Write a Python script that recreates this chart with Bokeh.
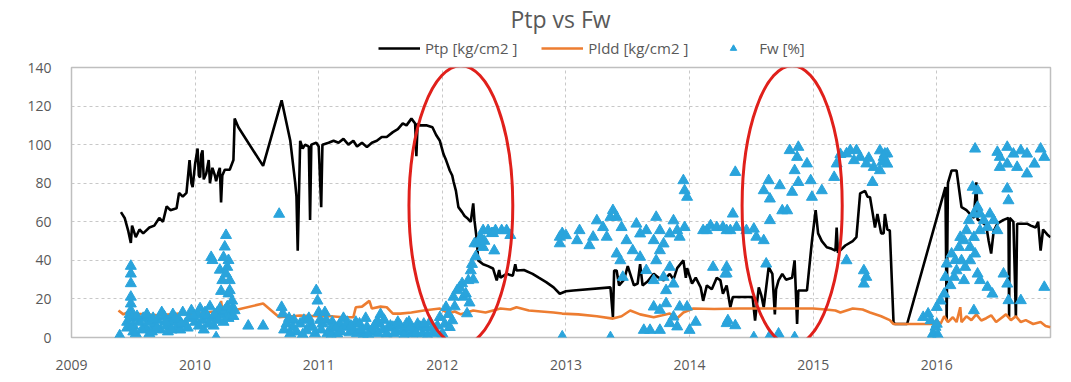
from bokeh.plotting import figure
from bokeh.models import Range1d, FixedTicker, Legend, LegendItem, Label
from bokeh.layouts import column
from bokeh.embed import file_html
from bokeh.resources import INLINE

# ---------------- data (decimal year, value) ----------------
ptp_points = [
    (2009.40, 65), (2009.43, 62), (2009.46, 55), (2009.48, 49), (2009.49, 58), (2009.52, 52),
    (2009.55, 56), (2009.58, 54), (2009.63, 57), (2009.67, 58), (2009.71, 62), (2009.74, 60),
    (2009.77, 68), (2009.80, 66), (2009.85, 67), (2009.87, 75), (2009.90, 73), (2009.93, 75),
    (2009.955, 92), (2009.97, 80), (2009.98, 78), (2010.00, 90), (2010.02, 98), (2010.03, 84),
    (2010.04, 83), (2010.05, 95), (2010.06, 97), (2010.07, 82), (2010.09, 85), (2010.11, 92),
    (2010.12, 80), (2010.14, 88), (2010.16, 84), (2010.17, 81), (2010.19, 86), (2010.20, 88),
    (2010.21, 70), (2010.22, 84), (2010.24, 87), (2010.28, 87), (2010.31, 92), (2010.32, 113.5),
    (2010.35, 109), (2010.55, 89), (2010.70, 123), (2010.77, 102), (2010.81, 80), (2010.82, 73),
    (2010.83, 45), (2010.85, 102), (2010.87, 98), (2010.89, 100), (2010.92, 99), (2010.93, 61),
    (2010.94, 100), (2010.98, 101), (2011.00, 99), (2011.02, 67.6), (2011.03, 100), (2011.08, 101),
    (2011.12, 102), (2011.16, 101), (2011.20, 103), (2011.24, 100), (2011.28, 102), (2011.31, 99),
    (2011.35, 101), (2011.39, 98.7), (2011.43, 101), (2011.47, 102), (2011.51, 104), (2011.55, 104),
    (2011.60, 106.5), (2011.64, 108), (2011.68, 111), (2011.71, 110), (2011.75, 113.5), (2011.78, 111),
    (2011.79, 94), (2011.80, 111), (2011.82, 110), (2011.87, 110), (2011.92, 109), (2011.95, 105),
    (2011.98, 102), (2012.01, 95), (2012.03, 92), (2012.06, 86.6), (2012.08, 84), (2012.09, 81),
    (2012.11, 76), (2012.13, 67.6), (2012.16, 65), (2012.18, 63), (2012.20, 62), (2012.23, 60),
    (2012.25, 69.5), (2012.26, 60.7), (2012.28, 50), (2012.29, 40), (2012.33, 38), (2012.37, 37),
    (2012.41, 35.8), (2012.44, 29.6), (2012.46, 35), (2012.47, 31), (2012.52, 33), (2012.57, 32),
    (2012.59, 38), (2012.60, 34.7), (2012.66, 35), (2012.73, 33), (2012.78, 31), (2012.84, 28.7),
    (2012.90, 26), (2012.95, 22.7), (2013.00, 24), (2013.06, 24.4), (2013.36, 26), (2013.38, 10.5),
    (2013.39, 34.7), (2013.41, 34.7), (2013.43, 27), (2013.47, 30), (2013.50, 37), (2013.52, 33),
    (2013.55, 27), (2013.58, 28), (2013.60, 38), (2013.62, 27), (2013.66, 29), (2013.71, 33),
    (2013.75, 31), (2013.79, 29.6), (2013.84, 33), (2013.87, 30), (2013.90, 36), (2013.95, 40),
    (2013.97, 31), (2013.98, 36), (2014.02, 28), (2014.05, 31), (2014.09, 26), (2014.11, 19),
    (2014.14, 27), (2014.18, 25), (2014.22, 31), (2014.25, 29.6), (2014.27, 22.7), (2014.30, 27),
    (2014.33, 15.7), (2014.35, 21), (2014.38, 21), (2014.51, 21), (2014.53, 8.8), (2014.56, 26),
    (2014.58, 22), (2014.60, 15.7), (2014.62, 26), (2014.64, 36.5), (2014.67, 33), (2014.69, 12),
    (2014.70, 25), (2014.72, 29.6), (2014.75, 33), (2014.78, 30), (2014.83, 31), (2014.85, 40),
    (2014.87, 7), (2014.88, 24.4), (2014.95, 24.4), (2014.99, 50), (2015.02, 66), (2015.04, 54),
    (2015.07, 50), (2015.11, 46.8), (2015.15, 46), (2015.18, 45), (2015.19, 57), (2015.20, 44),
    (2015.26, 47.7), (2015.32, 50), (2015.35, 52), (2015.38, 74.7), (2015.42, 76), (2015.44, 73),
    (2015.46, 72.7), (2015.48, 65), (2015.50, 57), (2015.52, 64), (2015.55, 54), (2015.57, 54),
    (2015.58, 64), (2015.60, 56), (2015.62, 55.5), (2015.65, 8), (2015.66, 7), (2015.76, 7),
    (2016.07, 78), (2016.08, 9), (2016.09, 80), (2016.12, 86.6), (2016.16, 86.6), (2016.20, 67.6),
    (2016.24, 66), (2016.27, 64), (2016.30, 62), (2016.32, 80.5), (2016.33, 61), (2016.35, 60.7),
    (2016.40, 58), (2016.42, 50), (2016.44, 43.5), (2016.46, 55), (2016.49, 59), (2016.54, 61),
    (2016.58, 62), (2016.585, 10.5), (2016.59, 62), (2016.62, 60), (2016.64, 10.5), (2016.65, 59),
    (2016.73, 59), (2016.76, 58), (2016.80, 57), (2016.82, 60), (2016.84, 45), (2016.86, 56),
    (2016.90, 53), (2016.92, 52),
]

pldd_points = [
    (2009.38, 14), (2009.42, 12), (2009.45, 13), (2009.50, 12.4), (2009.60, 12), (2009.70, 11.5),
    (2009.80, 12), (2009.90, 12.5), (2010.00, 12), (2010.10, 13), (2010.20, 14), (2010.21, 19),
    (2010.22, 14), (2010.31, 14), (2010.55, 17.6), (2010.68, 10.5), (2010.85, 11.4), (2011.00, 11),
    (2011.10, 11), (2011.20, 10.5), (2011.28, 10.5), (2011.30, 15.7), (2011.35, 16), (2011.41, 19),
    (2011.43, 15), (2011.50, 16), (2011.55, 15.7), (2011.60, 12.4), (2011.66, 12.4), (2011.75, 13),
    (2011.85, 14), (2011.98, 15), (2012.05, 12.5), (2012.10, 13.5), (2012.15, 12), (2012.25, 14),
    (2012.35, 13), (2012.47, 15), (2012.55, 14.5), (2012.60, 15.7), (2012.70, 14), (2012.80, 13.5),
    (2012.90, 13), (2012.97, 12.4), (2013.10, 12), (2013.25, 11), (2013.38, 9.8), (2013.45, 11),
    (2013.52, 14), (2013.60, 12), (2013.71, 10.5), (2013.78, 11.5), (2013.84, 12.4), (2013.90, 10),
    (2013.95, 13), (2014.03, 15), (2014.20, 14.8), (2014.40, 15), (2014.60, 15), (2014.80, 15),
    (2015.00, 15), (2015.10, 14.5), (2015.18, 14), (2015.22, 13), (2015.32, 15), (2015.40, 14.5),
    (2015.46, 13), (2015.55, 11), (2015.62, 9), (2015.65, 7), (2015.97, 7), (2016.00, 9),
    (2016.03, 7), (2016.06, 11), (2016.09, 8), (2016.13, 10.5), (2016.16, 8), (2016.19, 15.7),
    (2016.20, 8), (2016.24, 11), (2016.28, 9), (2016.32, 12), (2016.36, 8.8), (2016.40, 10),
    (2016.44, 11.5), (2016.48, 8), (2016.52, 10), (2016.56, 12), (2016.60, 9), (2016.64, 11),
    (2016.68, 8), (2016.72, 9), (2016.78, 7), (2016.84, 8), (2016.88, 6), (2016.92, 5.3),
]

fw_points = [
    # 2009.4 - 2010.35
    (2009.39, 1), (2009.48, 37), (2009.48, 33), (2009.48, 28), (2009.48, 21), (2009.48, 17.5),
    (2009.48, 14), (2009.47, 12), (2009.49, 10), (2009.45, 8), (2009.45, 5), (2009.50, 3),
    (2009.50, 6), (2009.52, 2), (2009.55, 8), (2009.58, 10), (2009.60, 5), (2009.62, 8),
    (2009.63, 2), (2009.65, 3), (2009.67, 7), (2009.70, 9), (2009.72, 4), (2009.75, 11),
    (2009.77, 6), (2009.78, 3), (2009.80, 8), (2009.82, 12), (2009.85, 5), (2009.87, 9),
    (2009.88, 4), (2009.90, 13), (2009.92, 7), (2009.95, 10), (2009.97, 14), (2010.00, 8),
    (2010.02, 12), (2010.04, 15), (2010.06, 9), (2010.08, 13), (2010.10, 11), (2010.12, 16),
    (2010.14, 10), (2010.15, 6), (2010.17, 0), (2010.18, 13), (2010.20, 15), (2010.22, 12),
    (2010.24, 14), (2010.26, 16), (2010.28, 13), (2010.30, 15), (2010.32, 14),
    (2009.53, 11), (2009.57, 4), (2009.61, 12), (2009.66, 10), (2009.69, 5), (2009.73, 13),
    (2009.76, 8), (2009.81, 4), (2009.84, 10), (2009.89, 7), (2009.94, 5), (2009.99, 11),
    (2010.03, 6), (2010.07, 4), (2010.11, 7), (2010.16, 12), (2010.19, 9), (2010.23, 8),
    (2010.27, 10), (2010.31, 11),
    (2010.13, 41.6), (2010.14, 40), (2010.25, 53), (2010.24, 47), (2010.23, 41.6), (2010.27, 40),
    (2010.20, 35), (2010.22, 29.6), (2010.26, 36.5), (2010.25, 33), (2010.28, 29.6), (2010.28, 24.4),
    (2010.30, 19), (2010.27, 22.7), (2010.21, 24),
    (2010.43, 6), (2010.55, 6), (2010.68, 64),
    # 2010.7 - 2012.05
    (2010.70, 15.7), (2010.71, 12.3), (2010.74, 7.1), (2010.76, 10), (2010.79, 5.4), (2010.82, 3),
    (2010.85, 7.1), (2010.88, 9), (2010.90, 3.6), (2010.93, 6), (2010.95, 5.4), (2010.98, 24.4),
    (2010.99, 19), (2011.00, 13), (2011.01, 9), (2011.03, 7.1), (2011.05, 13), (2011.07, 2),
    (2011.09, 3.6), (2011.11, 8), (2011.12, 5.4), (2011.15, 1.9), (2011.17, 7.1), (2011.20, 10),
    (2011.22, 5.4), (2011.25, 2.5), (2011.28, 3.6), (2011.30, 8), (2011.33, 7.1), (2011.36, 1),
    (2011.38, 10), (2011.39, 5.4), (2011.42, 3), (2011.44, 3.6), (2011.47, 8), (2011.49, 7.1),
    (2011.50, 12), (2011.52, 4), (2011.55, 1.9), (2011.58, 6), (2011.60, 5.4), (2011.63, 3),
    (2011.66, 6), (2011.68, 3.6), (2011.70, 3), (2011.71, 7.1), (2011.73, 8), (2011.76, 1.9),
    (2011.77, 4), (2011.80, 7), (2011.82, 5.4), (2011.84, 2), (2011.87, 5), (2011.90, 8),
    (2011.93, 3), (2011.96, 6), (2011.98, 10.5), (2012.00, 2), (2012.02, 7), (2012.03, 15.7),
    (2010.72, 4), (2010.77, 2), (2010.80, 9), (2010.87, 1.5), (2010.92, 10), (2010.97, 2),
    (2011.02, 4), (2011.06, 9), (2011.10, 1), (2011.14, 5), (2011.18, 3), (2011.23, 8),
    (2011.26, 6), (2011.31, 2), (2011.34, 4), (2011.40, 1.5), (2011.45, 6), (2011.48, 2),
    (2011.53, 9), (2011.56, 5), (2011.61, 2), (2011.64, 8), (2011.69, 1), (2011.74, 5),
    (2011.79, 2), (2011.85, 7), (2011.88, 1), (2011.92, 5), (2011.95, 2),
    # 2012.05 - 2012.6 rise
    (2012.06, 5.3), (2012.08, 8.8), (2012.05, 12), (2012.09, 21), (2012.10, 16), (2012.12, 24.4),
    (2012.14, 26), (2012.16, 28), (2012.17, 21), (2012.19, 22.7), (2012.20, 12.4), (2012.21, 29.6),
    (2012.22, 18), (2012.23, 34.7), (2012.24, 38), (2012.25, 30), (2012.26, 48.7), (2012.27, 42),
    (2012.29, 48.7), (2012.31, 52), (2012.33, 46.8), (2012.33, 55.5), (2012.34, 50), (2012.37, 55.5),
    (2012.40, 54), (2012.41, 54), (2012.42, 45), (2012.43, 55.5), (2012.48, 55.5), (2012.52, 55.5),
    (2012.55, 53),
    # 2012.9 - 2014.35
    (2012.95, 48.7), (2012.97, 54), (2012.95, 52.1), (2012.97, 0.4), (2013.00, 52.9), (2013.09, 50.3),
    (2013.11, 55.5), (2013.19, 47.7), (2013.22, 52.1), (2013.25, 60.6), (2013.30, 57.1), (2013.33, 52.1),
    (2013.36, 62.4), (2013.38, 65.9), (2013.41, 62.4), (2013.45, 57.1), (2013.49, 50.3), (2013.57, 58.9),
    (2013.60, 53.8), (2013.65, 55.5), (2013.71, 50.3), (2013.73, 62.4), (2013.76, 55.5), (2013.79, 48.6),
    (2013.84, 53.8), (2013.87, 60.6), (2013.90, 55.5), (2013.92, 52.1), (2013.96, 57.1),
    (2013.95, 81.4), (2013.96, 76.2), (2013.98, 72.8),
    (2013.41, 43.4), (2013.44, 39.9), (2013.46, 31.3), (2013.54, 45.1), (2013.60, 41.7), (2013.65, 34.8),
    (2013.71, 29.6), (2013.73, 39.9), (2013.76, 45.1), (2013.79, 31.3), (2013.81, 24.4), (2013.84, 36.5),
    (2013.87, 27.8), (2013.71, 15.9), (2013.76, 14.2), (2013.81, 17.6), (2013.87, 10.7), (2013.92, 15.9),
    (2013.98, 15.9), (2014.00, 3.8), (2013.90, 5.6), (2013.84, 7.3), (2013.76, 3.8), (2013.68, 3.8),
    (2013.63, 3.8), (2013.36, 0), (2014.05, 8),
    (2014.11, 55.5), (2014.14, 55.5), (2014.17, 58), (2014.22, 57.1), (2014.27, 57.2), (2014.30, 55.5),
    (2014.33, 55.5), (2014.19, 36.5), (2014.30, 33.1), (2014.29, 33.0), (2014.30, 36.5), (2014.30, 7.3),
    (2014.31, 8.8), (2014.37, 6.2),
    # 2014.35 - 2015.65
    (2014.37, 85.7), (2014.35, 64.1), (2014.38, 57.2), (2014.46, 55.5), (2014.52, 56.3), (2014.54, 52.1),
    (2014.60, 50.3), (2014.52, 0), (2014.62, 38.2), (2014.64, 81.4), (2014.60, 76.2), (2014.65, 71.9),
    (2014.73, 78.8), (2014.75, 65.8), (2014.65, 60.7), (2014.81, 97.0), (2014.88, 98.7), (2014.87, 93.5),
    (2014.85, 86.6), (2014.95, 90.1), (2014.98, 81.4), (2014.99, 72.8), (2015.07, 76.2), (2014.83, 75.4),
    (2014.88, 80.5), (2014.79, 65.8), (2014.72, 1.9), (2014.85, 0), (2014.65, 0.9),
    (2015.17, 83.1), (2015.19, 90.1), (2015.22, 95), (2015.27, 95.3), (2015.30, 97), (2015.33, 91.8),
    (2015.35, 97), (2015.38, 93.5), (2015.43, 90.1), (2015.45, 93), (2015.49, 88.3), (2015.54, 86.6),
    (2015.56, 91), (2015.60, 95.3), (2015.48, 80.5), (2015.27, 39.9), (2015.41, 34.7), (2015.43, 31.3),
    (2015.41, 27.8),
    # 2015.54 - 2016.92
    (2015.54, 96.9), (2015.58, 95.2), (2015.60, 90.0), (2015.57, 93.5),
    (2016.31, 97.8), (2016.49, 96.1), (2016.51, 93.5), (2016.57, 98.7), (2016.62, 95.2), (2016.68, 96.9),
    (2016.73, 95.2), (2016.79, 90.0), (2016.84, 97.8), (2016.87, 93.5), (2016.65, 88.3), (2016.73, 84.9),
    (2016.51, 88.3), (2016.57, 90.0), (2016.29, 78.0), (2016.33, 76.2), (2016.57, 77.1), (2016.58, 71.0),
    (2015.89, 10.5), (2015.93, 12.3), (2015.95, 8.8), (2015.96, 0.3), (2015.97, 2.0), (2015.99, 5.4),
    (2016.00, 7), (2016.01, 1.2), (2016.00, 15.7), (2016.03, 19), (2016.06, 22.6), (2016.07, 31.3),
    (2016.08, 38.2), (2016.11, 27), (2016.12, 43.4), (2016.14, 31.3), (2016.15, 40), (2016.16, 34.7),
    (2016.18, 46.8), (2016.19, 52), (2016.20, 39.9), (2016.22, 50.3), (2016.22, 29.6), (2016.23, 36.5),
    (2016.24, 55.5), (2016.26, 60.7), (2016.27, 46.8), (2016.27, 39.9), (2016.30, 64.1), (2016.30, 52.0),
    (2016.30, 14.0), (2016.31, 43.4), (2016.33, 67.6), (2016.33, 33.0), (2016.35, 64.1), (2016.35, 55.5),
    (2016.35, 29.6), (2016.38, 60.7), (2016.41, 57.2), (2016.41, 26.1), (2016.43, 64.1), (2016.45, 22.6),
    (2016.46, 60.7), (2016.49, 55.5), (2016.54, 33.0), (2016.57, 27.8), (2016.58, 19.2), (2016.68, 19.2),
    (2016.87, 26.1),
]

# highlight ellipses (annotations drawn on the chart)
hl_x = [2012.15, 2014.83]
hl_y = [68.4, 68.4]
hl_w = [0.84, 0.81]
hl_h = [145, 145]

years = [2009, 2010, 2011, 2012, 2013, 2014, 2015, 2016]
y_ticks = [0, 20, 40, 60, 80, 100, 120, 140]
title_text = "Ptp vs Fw"
series_names = ["Ptp [kg/cm2 ]", "Pldd [kg/cm2 ]", "Fw [%]"]

ptp_x = [a for a, _ in ptp_points]
ptp_y = [b for _, b in ptp_points]
pldd_x = [a for a, _ in pldd_points]
pldd_y = [b for _, b in pldd_points]
fw_x = [a for a, _ in fw_points]
fw_y = [b for _, b in fw_points]

GREY = "#595959"
BLUE = "#2AA4DC"
ORANGE = "#ED7D31"
W = 1055
HEAD_H = 58
LEFT, RIGHT = 71, 5

# ---------- header: title + legend (frame spans page x 71..1050) ----------
head = figure(width=W, height=HEAD_H, output_backend="svg", toolbar_location=None,
              x_range=Range1d(LEFT, W - RIGHT), y_range=Range1d(0, HEAD_H),
              min_border_left=LEFT, min_border_right=RIGHT, min_border_top=0, min_border_bottom=0)
head.axis.visible = False
head.grid.visible = False
head.outline_line_color = None
head.add_layout(Label(x=560, y=HEAD_H - 18, text=title_text, text_align="center",
                      text_baseline="middle", text_font="Open Sans", text_font_size="23px",
                      text_color=GREY))
# proxies for the legend: real series data, which falls outside the header's range
h_ptp = head.line(ptp_x[:2], ptp_y[:2], line_color="black", line_width=2.6)
h_pldd = head.line(pldd_x[:2], pldd_y[:2], line_color=ORANGE, line_width=2.6)
h_fw = head.scatter(fw_x[:1], fw_y[:1], marker="triangle", size=8, fill_color=BLUE, line_color=BLUE)
legend = Legend(items=[
    LegendItem(label=series_names[0], renderers=[h_ptp]),
    LegendItem(label=series_names[1], renderers=[h_pldd]),
    LegendItem(label=series_names[2], renderers=[h_fw]),
], orientation="horizontal", location=(378 - LEFT, 0))
legend.label_text_font = "Open Sans"
legend.label_text_font_size = "15px"
legend.label_text_color = GREY
legend.glyph_width = 42
legend.glyph_height = 16
legend.label_height = 16
legend.label_standoff = 5
legend.spacing = 24
legend.border_line_color = None
legend.background_fill_alpha = 0
legend.padding = 0
legend.margin = 0
head.add_layout(legend, "center")

# ---------- main chart ----------
p = figure(width=W, height=319, output_backend="svg", toolbar_location=None,
           x_range=Range1d(2009, 2016.92), y_range=Range1d(0, 140),
           min_border_left=LEFT, min_border_right=RIGHT, min_border_top=9, min_border_bottom=40)
p.outline_line_color = "#BFBFBF"
p.outline_line_width = 1.5

for ax in (p.xaxis[0], p.yaxis[0]):
    ax.axis_line_color = None
    ax.major_tick_line_color = None
    ax.minor_tick_line_color = None
    ax.major_label_text_color = GREY
    ax.major_label_text_font_size = "14px"
    ax.major_label_text_font = "Open Sans"
p.xaxis.ticker = FixedTicker(ticks=years)
p.yaxis.ticker = FixedTicker(ticks=y_ticks)
p.xaxis.major_label_standoff = 16
p.yaxis.major_label_standoff = 14

p.xgrid.grid_line_color = "#C8C8C8"
p.ygrid.grid_line_color = "#C8C8C8"
p.xgrid.grid_line_dash = "3 3"
p.ygrid.grid_line_dash = "3 3"

p.line(ptp_x, ptp_y, line_color="black", line_width=2.6)
p.line(pldd_x, pldd_y, line_color=ORANGE, line_width=2.6)
p.scatter(fw_x, fw_y, marker="triangle", size=11, fill_color=BLUE, line_color=BLUE)
p.ellipse(x=hl_x, y=hl_y, width=hl_w, height=hl_h, fill_color=None,
          line_color="#E0201B", line_width=3)

layout = column(head, p, spacing=0)
open("out.html", "w").write(file_html(layout, INLINE))
